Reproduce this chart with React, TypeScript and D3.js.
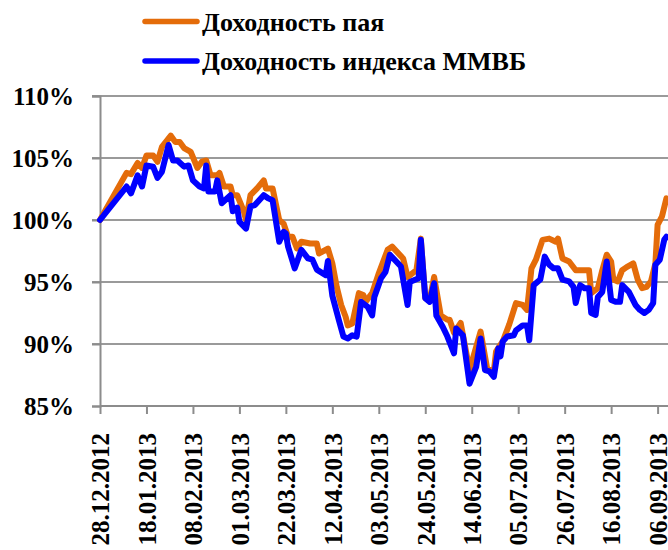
import { useEffect, useRef } from "react";
import * as d3 from "d3";

// Доходность пая (orange)
const fundDates = [
    "28.12.2012", "09.01.2013", "11.01.2013", "14.01.2013", "16.01.2013", "18.01.2013", "21.01.2013", "23.01.2013",
    "25.01.2013", "29.01.2013", "31.01.2013", "02.02.2013", "04.02.2013", "07.02.2013", "10.02.2013", "12.02.2013",
    "14.02.2013", "16.02.2013", "19.02.2013", "20.02.2013", "22.02.2013", "25.02.2013", "26.02.2013", "28.02.2013",
    "03.03.2013", "04.03.2013", "06.03.2013", "09.03.2013", "12.03.2013", "13.03.2013", "16.03.2013", "19.03.2013",
    "21.03.2013", "23.03.2013", "25.03.2013", "27.03.2013", "29.03.2013", "02.04.2013", "05.04.2013", "06.04.2013",
    "10.04.2013", "12.04.2013", "14.04.2013", "16.04.2013", "18.04.2013", "19.04.2013", "21.04.2013", "24.04.2013",
    "26.04.2013", "27.04.2013", "30.04.2013", "03.05.2013", "07.05.2013", "09.05.2013", "14.05.2013", "16.05.2013",
    "20.05.2013", "22.05.2013", "24.05.2013", "26.05.2013", "28.05.2013", "31.05.2013", "03.06.2013", "04.06.2013",
    "06.06.2013", "09.06.2013", "13.06.2013", "18.06.2013", "21.06.2013", "24.06.2013", "25.06.2013", "28.06.2013",
    "01.07.2013", "04.07.2013", "07.07.2013", "09.07.2013", "11.07.2013", "13.07.2013", "16.07.2013", "19.07.2013",
    "22.07.2013", "23.07.2013", "25.07.2013", "28.07.2013", "31.07.2013", "02.08.2013", "06.08.2013", "07.08.2013",
    "10.08.2013", "12.08.2013", "14.08.2013", "16.08.2013", "17.08.2013", "19.08.2013", "21.08.2013", "23.08.2013",
    "26.08.2013", "28.08.2013", "30.08.2013", "01.09.2013", "03.09.2013", "05.09.2013", "06.09.2013", "08.09.2013",
    "10.09.2013"
];
const fundValues = [
    100, 103.8, 103.7, 104.6, 104.2, 105.2, 105.2, 104.7,
    105.9, 106.8, 106.3, 106.3, 105.8, 105.5, 104.2, 104.7,
    104.8, 103.6, 103.6, 103.8, 102.7, 102.7, 102.0, 102.0,
    100.7, 100.0, 102.0, 102.55, 103.2, 102.55, 102.55, 100.0,
    99.7, 98.65, 98.65, 97.7, 98.25, 98.1, 98.1, 97.3,
    97.7, 96.5, 94.6, 93.15, 92.2, 91.5, 91.65, 94.1,
    93.95, 93.4, 94.1, 95.7, 97.6, 97.85, 96.9, 95.4,
    95.95, 98.5, 93.7, 93.55, 95.4, 92.3, 91.95, 91.95,
    90.9, 91.7, 87.9, 91.0, 88.0, 87.8, 89.4, 90.2,
    91.6, 93.3, 93.15, 92.75, 96.1, 96.8, 98.4, 98.5,
    98.25, 98.5, 96.9, 96.65, 95.95, 95.95, 95.95, 94.1,
    94.5, 95.95, 97.2, 96.65, 95.2, 95.05, 95.95, 96.2,
    96.5, 95.2, 94.5, 94.6, 95.05, 96.5, 99.6, 100.3,
    101.75
];

// Доходность индекса ММВБ (blue)
const indexDates = [
    "28.12.2012", "09.01.2013", "11.01.2013", "14.01.2013", "16.01.2013", "18.01.2013", "21.01.2013", "23.01.2013",
    "25.01.2013", "28.01.2013", "30.01.2013", "01.02.2013", "04.02.2013", "06.02.2013", "08.02.2013", "11.02.2013",
    "13.02.2013", "14.02.2013", "15.02.2013", "18.02.2013", "19.02.2013", "21.02.2013", "25.02.2013", "26.02.2013",
    "28.02.2013", "01.03.2013", "04.03.2013", "06.03.2013", "08.03.2013", "12.03.2013", "14.03.2013", "16.03.2013",
    "19.03.2013", "21.03.2013", "22.03.2013", "23.03.2013", "26.03.2013", "29.03.2013", "01.04.2013", "03.04.2013",
    "05.04.2013", "09.04.2013", "10.04.2013", "12.04.2013", "15.04.2013", "17.04.2013", "19.04.2013", "21.04.2013",
    "23.04.2013", "25.04.2013", "28.04.2013", "30.04.2013", "01.05.2013", "04.05.2013", "06.05.2013", "08.05.2013",
    "13.05.2013", "16.05.2013", "17.05.2013", "21.05.2013", "22.05.2013", "24.05.2013", "26.05.2013", "28.05.2013",
    "29.05.2013", "01.06.2013", "03.06.2013", "06.06.2013", "07.06.2013", "10.06.2013", "13.06.2013", "16.06.2013",
    "18.06.2013", "20.06.2013", "22.06.2013", "24.06.2013", "26.06.2013", "27.06.2013", "28.06.2013", "30.06.2013",
    "03.07.2013", "04.07.2013", "07.07.2013", "09.07.2013", "10.07.2013", "12.07.2013", "15.07.2013", "17.07.2013",
    "19.07.2013", "21.07.2013", "23.07.2013", "25.07.2013", "28.07.2013", "30.07.2013", "31.07.2013", "02.08.2013",
    "04.08.2013", "06.08.2013", "07.08.2013", "09.08.2013", "10.08.2013", "12.08.2013", "14.08.2013", "16.08.2013",
    "18.08.2013", "20.08.2013", "21.08.2013", "24.08.2013", "27.08.2013", "29.08.2013", "31.08.2013", "02.09.2013",
    "04.09.2013", "05.09.2013", "07.09.2013", "09.09.2013", "10.09.2013"
];
const indexValues = [
    100, 102.7, 102.15, 103.6, 102.7, 104.4, 104.3, 103.4,
    103.9, 106.05, 104.8, 104.8, 104.3, 104.4, 103.2, 102.7,
    102.55, 104.4, 102.3, 102.3, 103.2, 101.35, 102.0, 100.7,
    101.0, 99.85, 99.3, 101.1, 101.2, 102.0, 101.75, 101.6,
    98.25, 99.05, 98.9, 97.85, 96.1, 97.6, 96.9, 96.8,
    96.0, 95.55, 96.7, 93.9, 91.9, 90.6, 90.45, 90.7,
    90.6, 93.4, 93.0, 92.3, 93.8, 95.3, 95.8, 97.2,
    96.25, 93.15, 95.0, 95.3, 98.4, 93.7, 93.4, 94.9,
    92.3, 91.35, 90.6, 89.25, 91.25, 90.7, 86.8, 88.15,
    90.45, 87.9, 87.8, 87.35, 89.65, 89.0, 90.2, 90.6,
    90.7, 91.1, 91.5, 91.5, 90.3, 94.75, 95.2, 97.05,
    96.4, 96.1, 96.1, 95.2, 95.05, 94.6, 93.3, 94.75,
    94.5, 94.5, 92.5, 92.35, 93.8, 94.2, 96.65, 93.55,
    93.4, 93.4, 94.75, 94.2, 93.15, 92.75, 92.5, 92.75,
    93.3, 96.4, 96.8, 98.4, 98.65
];

const tickDates = [
    "28.12.2012", "18.01.2013", "08.02.2013", "01.03.2013", "22.03.2013", "12.04.2013", "03.05.2013",
    "24.05.2013", "14.06.2013", "05.07.2013", "26.07.2013", "16.08.2013", "06.09.2013"
];
const yTicks = [85, 90, 95, 100, 105, 110];

const legendLabels = ["Доходность пая", "Доходность индекса ММВБ"];
const colors = ["#E46C0A", "#0000FF"];

const App = () => {
    const chartRef = useRef<SVGSVGElement | null>(null);

    useEffect(() => {
        if (!chartRef.current) return;
        document.body.style.margin = "0";

        d3.select(chartRef.current).selectAll("*").remove();

        const width = 668;
        const height = 550;
        const font = "'Liberation Serif', 'Times New Roman', serif";
        const parse = d3.timeParse("%d.%m.%Y");

        const svg = d3.select(chartRef.current)
            .attr("width", width)
            .attr("height", height)
            .style("display", "block")
            .style("background", "#fff");

        // Scales
        const x = d3.scaleTime()
            .domain([parse("28.12.2012") as Date, parse("06.09.2013") as Date])
            .range([100, 657.6]);

        const y = d3.scaleLinear()
            .domain([85, 110])
            .range([406, 96]);

        // Gridlines
        svg.append("g")
            .selectAll("line")
            .data(yTicks.filter(t => t !== 85))
            .enter().append("line")
            .attr("x1", 92)
            .attr("x2", width)
            .attr("y1", d => y(d))
            .attr("y2", d => y(d))
            .attr("stroke", "#9a9a9a")
            .attr("stroke-width", 2);

        // Y axis
        const yAxis = svg.append("g")
            .attr("transform", "translate(100,0)")
            .call(d3.axisLeft(y).tickValues(yTicks).tickSize(8).tickFormat(d => `${d}%`));
        yAxis.select(".domain").attr("stroke", "#8c8c8c").attr("stroke-width", 2);
        yAxis.selectAll(".tick line").attr("stroke", "#8c8c8c").attr("stroke-width", 2);
        yAxis.selectAll(".tick text")
            .attr("x", -26)
            .attr("dy", "0.35em")
            .style("font-family", font)
            .style("font-weight", "bold")
            .style("font-size", "25px")
            .attr("fill", "#000");

        // X axis
        const xAxis = svg.append("g")
            .attr("transform", "translate(0,406)")
            .call(d3.axisBottom(x)
                .tickValues(tickDates.map(d => parse(d) as Date))
                .tickSize(8)
                .tickSizeOuter(0)
                .tickFormat(d => d3.timeFormat("%d.%m.%Y")(d as Date)));
        xAxis.select(".domain").attr("stroke", "#8c8c8c").attr("stroke-width", 2).attr("d", `M100,0H${width}`);
        xAxis.selectAll(".tick line").attr("stroke", "#8c8c8c").attr("stroke-width", 2);
        xAxis.selectAll(".tick text")
            .attr("transform", "rotate(-90)")
            .attr("x", -27)
            .attr("y", 0)
            .attr("dy", "0.35em")
            .style("text-anchor", "end")
            .style("font-family", font)
            .style("font-weight", "bold")
            .style("font-size", "25px")
            .attr("fill", "#000");

        // Lines
        const line = d3.line<[Date, number]>()
            .x(d => x(d[0]))
            .y(d => y(d[1]));

        const series: [Date, number][][] = [
            fundDates.map((d, i) => [parse(d) as Date, fundValues[i]]),
            indexDates.map((d, i) => [parse(d) as Date, indexValues[i]])
        ];

        series.forEach((s, i) => {
            svg.append("path")
                .datum(s)
                .attr("d", line)
                .attr("fill", "none")
                .attr("stroke", colors[i])
                .attr("stroke-width", 6)
                .attr("stroke-linejoin", "round")
                .attr("stroke-linecap", "round");
        });

        // Legend
        const legend = svg.append("g");
        legendLabels.forEach((label, i) => {
            const ly = 21.5 + i * 39.5;
            legend.append("line")
                .attr("x1", 145)
                .attr("x2", 197)
                .attr("y1", ly)
                .attr("y2", ly)
                .attr("stroke", colors[i])
                .attr("stroke-width", 5.5)
                .attr("stroke-linecap", "round");
            legend.append("text")
                .attr("x", 202)
                .attr("y", ly)
                .attr("dy", "0.35em")
                .style("font-family", font)
                .style("font-weight", "bold")
                .style("font-size", "26px")
                .text(label);
        });
    }, []);

    return <svg ref={chartRef}></svg>;
};

export default App;
